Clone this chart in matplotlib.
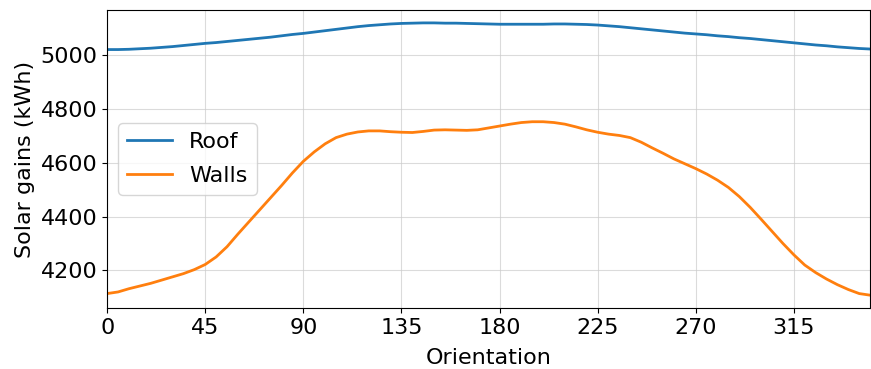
import matplotlib
matplotlib.use("Agg")
import matplotlib.pyplot as plt

# orientation in degrees, 5 deg steps
orientation = list(range(0, 355, 5))

roof = [5020, 5020, 5021, 5023, 5025, 5028, 5031, 5035, 5039, 5043,
        5046, 5050, 5054, 5058, 5062, 5066, 5071, 5076, 5080, 5085,
        5090, 5095, 5100, 5105, 5109, 5112, 5115, 5117, 5118, 5119,
        5119, 5118, 5118, 5117, 5116, 5115, 5114, 5114, 5114, 5114,
        5114, 5115, 5115, 5114, 5113, 5111, 5108, 5105, 5101, 5097,
        5093, 5089, 5085, 5081, 5078, 5075, 5071, 5068, 5064, 5061,
        5057, 5053, 5049, 5045, 5041, 5037, 5034, 5030, 5027, 5024,
        5022]

walls = [4114, 4120, 4132, 4142, 4152, 4164, 4176, 4188, 4203, 4222,
         4250, 4288, 4335, 4380, 4425, 4470, 4515, 4562, 4605, 4640,
         4670, 4693, 4706, 4714, 4718, 4718, 4715, 4713, 4712, 4716,
         4721, 4722, 4721, 4720, 4722, 4729, 4736, 4743, 4749, 4752,
         4752, 4749, 4743, 4733, 4722, 4713, 4706, 4701, 4693, 4676,
         4655, 4635, 4614, 4596, 4578, 4558, 4535, 4508, 4474, 4434,
         4390, 4345, 4300, 4258, 4220, 4192, 4168, 4147, 4129, 4114,
         4108]

fig = plt.figure(figsize=(8.71, 3.69), dpi=100)
ax = fig.add_axes([0.123, 0.165, 0.876, 0.808])

ax.plot(orientation, roof, color='#1f77b4', linewidth=2, label='Roof')
ax.plot(orientation, walls, color='#ff7f0e', linewidth=2, label='Walls')

ax.set_xlim(0, 350)
ax.set_ylim(4060, 5167)
ax.set_xticks(range(0, 350, 45))
ax.set_yticks([4200, 4400, 4600, 4800, 5000])
ax.tick_params(labelsize=16)
ax.set_xlabel('Orientation', fontsize=16, labelpad=7)
ax.set_ylabel('Solar gains (kWh)', fontsize=16)
ax.grid(True, color='#cccccc', alpha=0.7, linewidth=0.8)
ax.legend(loc='center left', fontsize=16, labelspacing=0.62)

fig.savefig('out.png', dpi=100)
